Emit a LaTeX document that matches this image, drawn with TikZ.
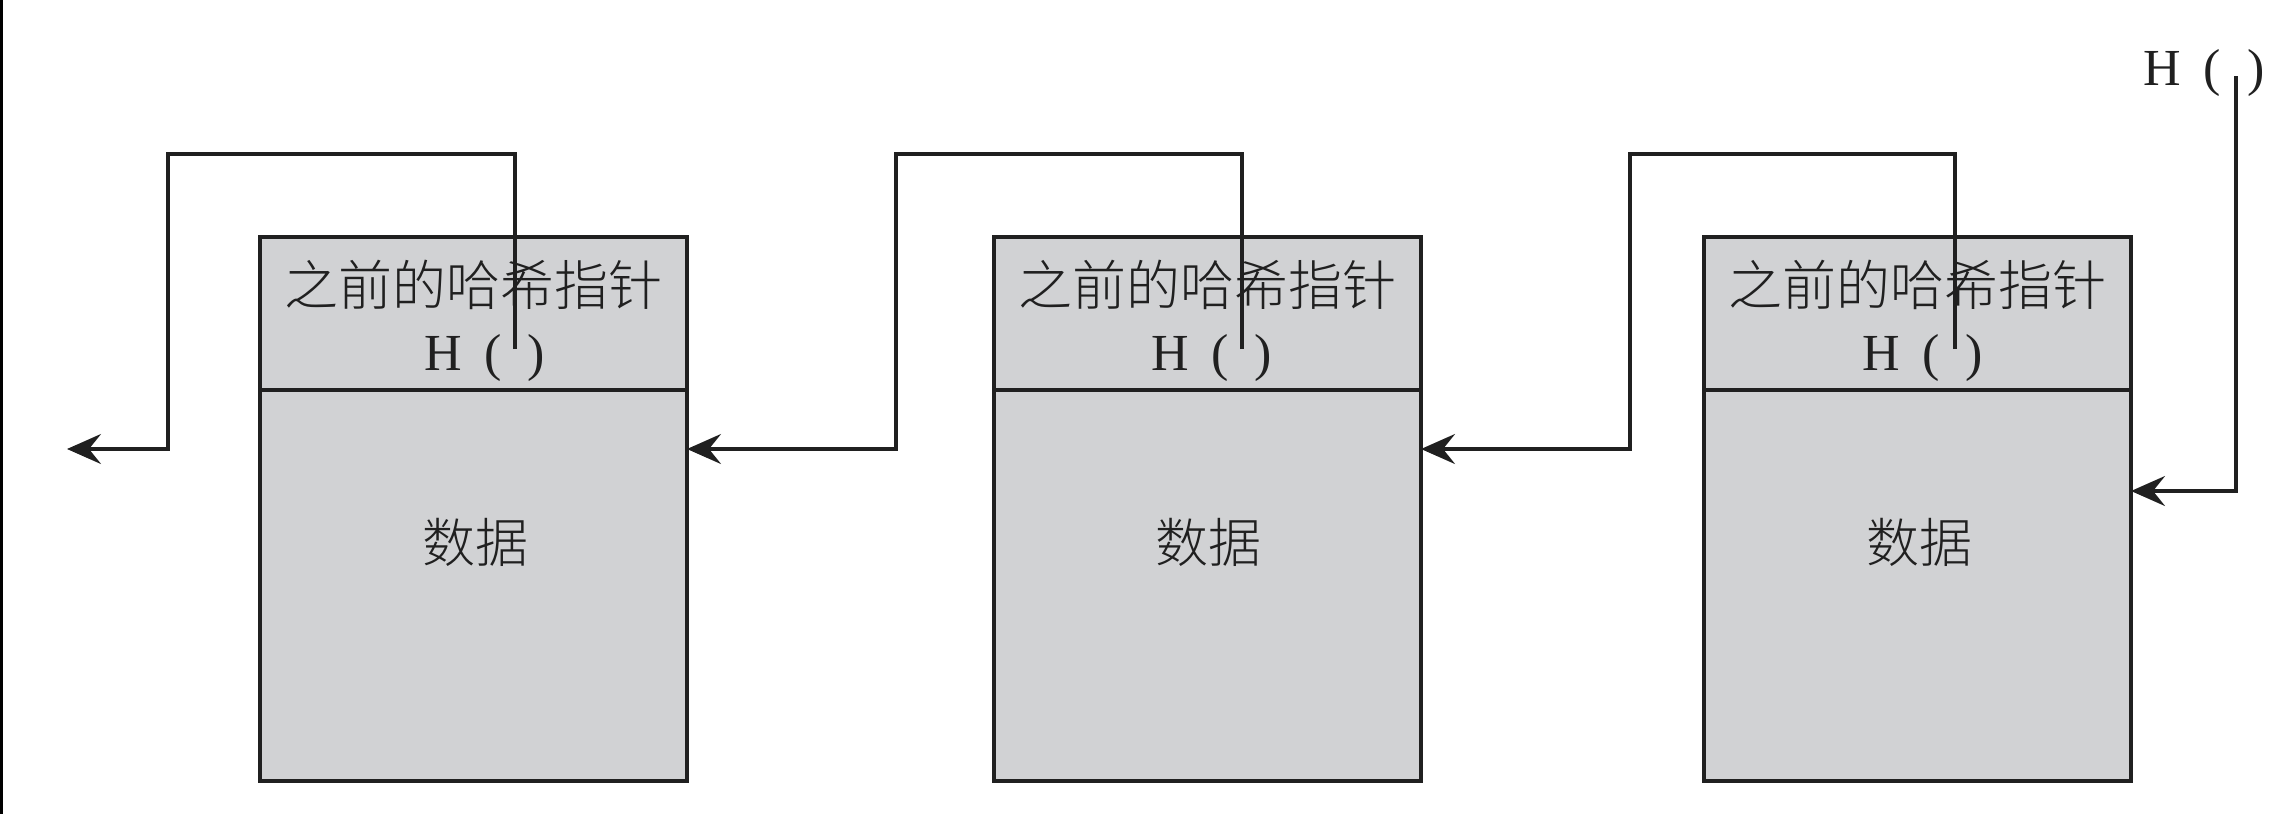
\documentclass[tikz,border=0pt]{standalone}
\usepackage{fontspec}
\setmainfont{Liberation Serif}
\newfontfamily\cjk{Noto Sans CJK SC}[UprightFont={* Light}]
\usetikzlibrary{arrows.meta}
\definecolor{boxfill}{HTML}{D1D2D4}
\definecolor{ink}{HTML}{202020}
\begin{document}
\begin{tikzpicture}[x=0.5pt,y=-0.5pt,
  cell/.style={draw=ink, line width=1.9pt, fill=boxfill, minimum width=213.5pt,
               inner sep=0pt, outer sep=0pt, anchor=north west},
  head/.style={cell, minimum height=76.5pt},
  body/.style={cell, minimum height=195.5pt},
  cjklabel/.style={font=\cjk\fontsize{27pt}{27pt}\selectfont, text=ink, inner sep=0pt},
  hashlabel/.style={font=\fontsize{26pt}{26pt}\selectfont, text=ink, inner sep=0pt, anchor=base west},
  link/.style={draw=ink, line width=1.6pt, -{Stealth[length=17pt,width=15pt,inset=6pt]}},
]
\path[use as bounding box] (0,0) rectangle (2291,814);
% dark edge strip on the left
\fill[black] (0,0) rectangle (2.5,814);

% three blocks: header with the hash pointer, body with the data
\node[head] (h1) at (260,237) {};
\node[body] (b1) at (260,390) {};
\node[head] (h2) at (994,237) {};
\node[body] (b2) at (994,390) {};
\node[head] (h3) at (1704,237) {};
\node[body] (b3) at (1704,390) {};

% header texts
\node[cjklabel] (t1) at (473.5,285) {之前的哈希指针};
\node[cjklabel] (t2) at (1207,285) {之前的哈希指针};
\node[cjklabel] (t3) at (1917.5,285) {之前的哈希指针};
\node[hashlabel] (k1) at (424,370) {H\hspace{11.5pt}(\hspace{12.8pt})};
\node[hashlabel] (k2) at (1151,370) {H\hspace{11.5pt}(\hspace{12.8pt})};
\node[hashlabel] (k3) at (1862,370) {H\hspace{11.5pt}(\hspace{12.8pt})};
\node[hashlabel] (k0) at (2143,85) {H\hspace{11.5pt}(\hspace{13pt})};

% data texts
\node[cjklabel, font=\cjk\fontsize{26.5pt}{26.5pt}\selectfont] (e1) at (475,542) {数据};
\node[cjklabel, font=\cjk\fontsize{26.5pt}{26.5pt}\selectfont] (e2) at (1208,542) {数据};
\node[cjklabel, font=\cjk\fontsize{26.5pt}{26.5pt}\selectfont] (e3) at (1919,542) {数据};

% pointer start points inside the parentheses
\coordinate (p1) at (515,349);
\coordinate (p2) at (1242,349);
\coordinate (p3) at (1955,349);
\coordinate (p0) at (2236,76);
% bend points and the open end of the chain
\coordinate (u1) at (168,154);
\coordinate (u2) at (896,154);
\coordinate (u3) at (1630,154);
\coordinate (q1) at (67,449);
\coordinate (q3) at (2236,491);

% hash pointers
\draw[link] (p1) |- (u1) |- (q1);
\draw[link] (p2) |- (u2) |- (b1.east |- q1);
\draw[link] (p3) |- (u3) |- (b2.east |- q1);
\draw[link] (p0) |- (b3.east |- q3);
\end{tikzpicture}
\end{document}
